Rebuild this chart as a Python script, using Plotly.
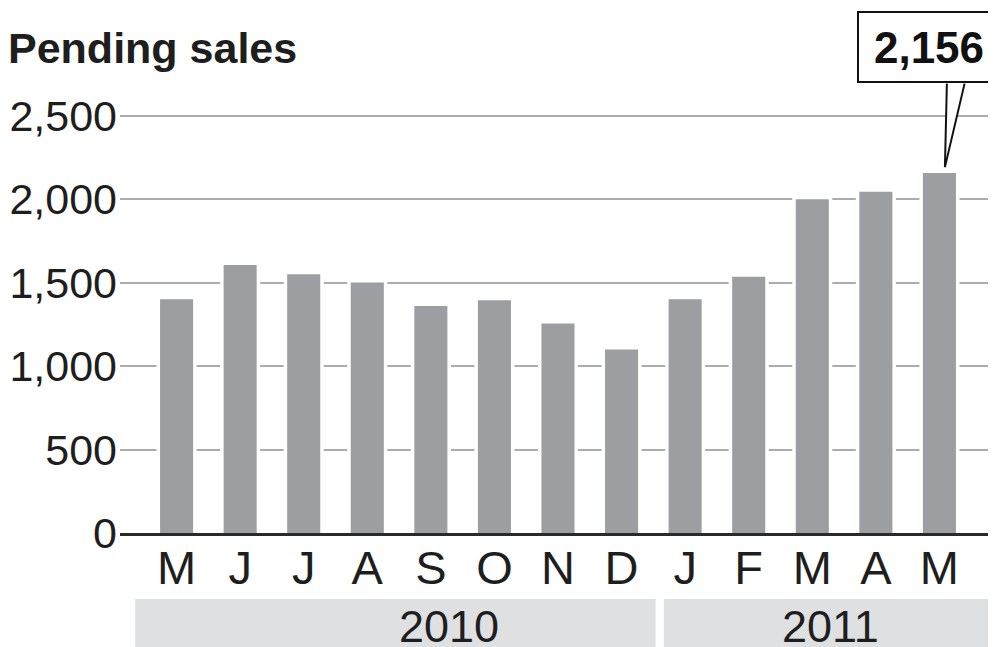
import plotly.graph_objects as go

# ---- data ----
months = ["M", "J", "J", "A", "S", "O", "N", "D", "J", "F", "M", "A", "M"]
sales = [1400, 1605, 1550, 1500, 1360, 1395, 1255, 1100, 1400, 1535, 2000, 2045, 2156]
year_labels = ["2010", "2011"]
months_per_year = [8, 5]
y_tickvals = [0, 500, 1000, 1500, 2000, 2500]
y_ticktext = ["0", "500", "1,000", "1,500", "2,000", "2,500"]
title_text = "Pending sales"
callout_text = "2,156"

# ---- layout constants ----
# the page body has an 8px margin, so the figure is drawn 8px smaller
FIG_W, FIG_H = 988, 639
FONT = "Liberation Sans, Arial, Helvetica, sans-serif"
BAR_COLOR = "#9d9ea2"
GRID_COLOR = "#acacac"
BAND_COLOR = "#dfe0e1"
TEXT_COLOR = "#1e1e1e"
BAR_W = 0.52
X_RANGE = [-0.89, 12.89]
Y_RANGE = [0, 2600]
YEAR_LABEL_X = [4.28, 10.28]

x = list(range(len(months)))
hi = len(sales) - 1

fig = go.Figure()
# white halo behind bars (interrupts gridlines like the original)
fig.add_trace(go.Bar(
    x=x, y=sales, width=BAR_W,
    marker=dict(color="white", line=dict(color="white", width=7)),
    hoverinfo="skip", showlegend=False,
))
fig.add_trace(go.Bar(
    x=x, y=sales, width=BAR_W,
    marker=dict(color=BAR_COLOR, line=dict(width=0)),
    showlegend=False,
))

# year bands below the axis
shapes = []
annotations = []
start = 0
for i, (lab, n) in enumerate(zip(year_labels, months_per_year)):
    end = start + n - 1
    x0 = start - 0.65 if i == 0 else start - 0.4 + 0.065
    x1 = end + 0.6 - 0.065 if i < len(year_labels) - 1 else X_RANGE[1]
    shapes.append(dict(type="rect", xref="x", yref="paper", x0=x0, x1=x1,
                       y0=-0.32, y1=-0.152, fillcolor=BAND_COLOR,
                       line=dict(width=0), layer="below"))
    annotations.append(dict(text=lab, xref="x", yref="paper", x=YEAR_LABEL_X[i],
                            y=-0.2166, yanchor="middle", xanchor="center", yshift=1,
                            showarrow=False, font=dict(family=FONT, size=45, color=TEXT_COLOR)))
    start += n

# callout pointer (white fill + two black edges) and box
common = dict(x=hi, y=sales[hi], xref="x", yref="y", text="", showarrow=True,
              arrowhead=0, xshift=5.5, yshift=6, font=dict(size=1))
annotations.append(dict(common, ax=11, ay=-85, arrowwidth=9, arrowcolor="white"))
annotations.append(dict(common, ax=2, ay=-85, arrowwidth=2, arrowcolor="#111"))
annotations.append(dict(common, ax=20, ay=-85, arrowwidth=2, arrowcolor="#111"))
annotations.append(dict(
    text="<b>" + callout_text + "</b>", x=hi, y=sales[hi], xref="x", yref="y",
    showarrow=False, xshift=-10, yshift=126, xanchor="center", yanchor="middle",
    font=dict(family=FONT, size=44, color="#111"),
    bordercolor="#111", borderwidth=2, borderpad=3, bgcolor="white",
    width=134, height=62,
))

fig.update_layout(
    width=FIG_W, height=FIG_H,
    margin=dict(l=112, r=0, t=91, b=114, pad=0),
    paper_bgcolor="white", plot_bgcolor="white",
    barmode="overlay",
    title=dict(text="<b>" + title_text + "</b>", xref="container", yref="container",
               x=0, xanchor="left", y=1 - 40 / FIG_H, yanchor="middle",
               font=dict(family=FONT, size=43, color=TEXT_COLOR)),
    xaxis=dict(range=X_RANGE, tickvals=x, ticktext=months, showgrid=False,
               zeroline=False, showline=True, linecolor="#2a2a2a", linewidth=3,
               ticks="", tickfont=dict(family=FONT, size=47, color=TEXT_COLOR),
               ticklabelstandoff=-8, automargin=False, fixedrange=True),
    yaxis=dict(range=Y_RANGE, tickvals=y_tickvals, ticktext=y_ticktext,
               showgrid=True, gridcolor=GRID_COLOR, gridwidth=2,
               zeroline=False, showline=False, ticks="",
               tickfont=dict(family=FONT, size=43, color=TEXT_COLOR),
               ticklabelstandoff=2, automargin=False, fixedrange=True),
    shapes=shapes,
    annotations=annotations,
)

fig.write_html("out.html", config={"displayModeBar": False})
